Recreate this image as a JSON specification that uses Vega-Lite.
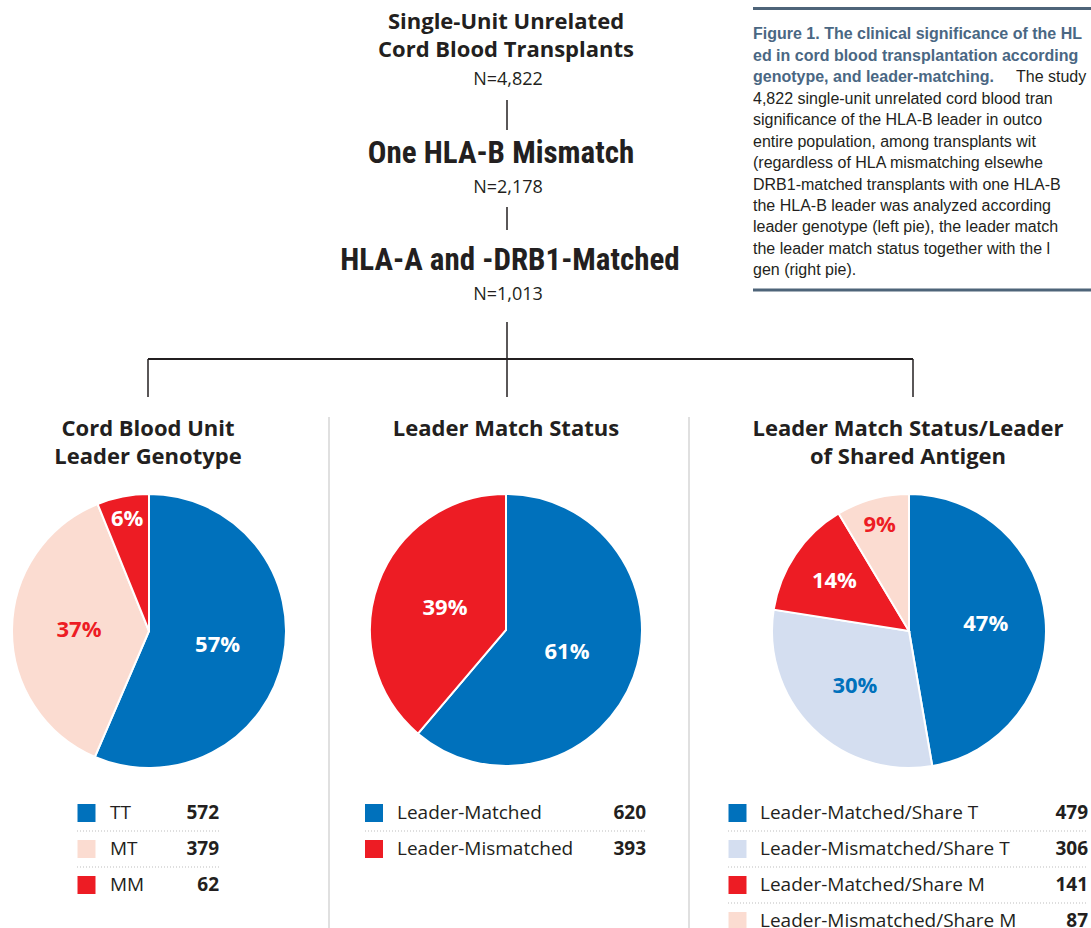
{
"$schema": "https://vega.github.io/schema/vega-lite/v6.json",
"padding": 0,
"spacing": 0,
"bounds": "flush",
"background": "white",
"config": {"view": {"stroke": null}},
"datasets": {
 "pies": [
  {"pie":"genotype","rank":1,"category":"TT","count":572,"pct":57,"label":"57%"},
  {"pie":"genotype","rank":2,"category":"MT","count":379,"pct":37,"label":"37%"},
  {"pie":"genotype","rank":3,"category":"MM","count":62,"pct":6,"label":"6%"},
  {"pie":"match","rank":1,"category":"Leader-Matched","count":620,"pct":61,"label":"61%"},
  {"pie":"match","rank":2,"category":"Leader-Mismatched","count":393,"pct":39,"label":"39%"},
  {"pie":"shared","rank":1,"category":"Leader-Matched/Share T","count":479,"pct":47,"label":"47%"},
  {"pie":"shared","rank":2,"category":"Leader-Mismatched/Share T","count":306,"pct":30,"label":"30%"},
  {"pie":"shared","rank":3,"category":"Leader-Matched/Share M","count":141,"pct":14,"label":"14%"},
  {"pie":"shared","rank":4,"category":"Leader-Mismatched/Share M","count":87,"pct":9,"label":"9%"}
 ],
 "text": [
  {"id":"flow1","text":"Single-Unit Unrelated\nCord Blood Transplants"},
  {"id":"n1","text":"N=4,822"},
  {"id":"flow2","text":"One HLA-B Mismatch"},
  {"id":"n2","text":"N=2,178"},
  {"id":"flow3","text":"HLA-A and -DRB1-Matched"},
  {"id":"n3","text":"N=1,013"},
  {"id":"title1","text":"Cord Blood Unit\nLeader Genotype"},
  {"id":"title2","text":"Leader Match Status"},
  {"id":"title3","text":"Leader Match Status/Leader\nof Shared Antigen"},
  {"id":"capBold","text":"Figure 1. The clinical significance of the HL\ned in cord blood transplantation according\ngenotype, and leader-matching."},
  {"id":"capTail","text":"The study"},
  {"id":"capBody","text":"4,822 single-unit unrelated cord blood tran\nsignificance of the HLA-B leader in outco\nentire population, among transplants wit\n(regardless of HLA mismatching elsewhe\nDRB1-matched transplants with one HLA-B\nthe HLA-B leader was analyzed according\nleader genotype (left pie), the leader match\nthe leader match status together with the l\ngen (right pie)."}
 ],
 "one": [{"part":"frame"}]
},
"vconcat": [
 {
  "width": 1091,
  "height": 795,
  "layer": [
   {"data":{"name":"text"},"transform":[{"filter":"datum.id==='flow1'"}],
    "mark":{"type":"text","font":"Open Sans","fontWeight":"bold","fontSize":22,"align":"center","baseline":"alphabetic","lineBreak":"\n","lineHeight":28,"color":"#231f20"},
    "encoding":{"x":{"datum":506,"type":"quantitative","scale":{"domain":[0,1091],"nice":false,"zero":false},"axis":null},
                "y":{"datum":29,"type":"quantitative","scale":{"domain":[0,795],"reverse":true,"nice":false,"zero":false},"axis":null},
                "text":{"field":"text"}}},
   {"data":{"name":"text"},"transform":[{"filter":"datum.id==='n1'"}],
    "mark":{"type":"text","font":"Open Sans","fontSize":18,"align":"center","baseline":"alphabetic","color":"#231f20"},
    "encoding":{"x":{"datum":508,"type":"quantitative","axis":null},"y":{"datum":85,"type":"quantitative","axis":null},"text":{"field":"text"}}},
   {"data":{"name":"one"},"mark":{"type":"rule","color":"#231f20","strokeWidth":1.5},
    "encoding":{"x":{"datum":507,"type":"quantitative","axis":null},"y":{"datum":100,"type":"quantitative","axis":null},"y2":{"datum":130}}},
   {"data":{"name":"text"},"transform":[{"filter":"datum.id==='flow2'"}],
    "mark":{"type":"text","font":"Roboto Condensed, Roboto","fontWeight":"bold","fontSize":31,"align":"center","baseline":"alphabetic","color":"#231f20"},
    "encoding":{"x":{"datum":501,"type":"quantitative","axis":null},"y":{"datum":163,"type":"quantitative","axis":null},"text":{"field":"text"}}},
   {"data":{"name":"text"},"transform":[{"filter":"datum.id==='n2'"}],
    "mark":{"type":"text","font":"Open Sans","fontSize":18,"align":"center","baseline":"alphabetic","color":"#231f20"},
    "encoding":{"x":{"datum":508,"type":"quantitative","axis":null},"y":{"datum":193,"type":"quantitative","axis":null},"text":{"field":"text"}}},
   {"data":{"name":"one"},"mark":{"type":"rule","color":"#231f20","strokeWidth":1.5},
    "encoding":{"x":{"datum":507,"type":"quantitative","axis":null},"y":{"datum":207,"type":"quantitative","axis":null},"y2":{"datum":230}}},
   {"data":{"name":"text"},"transform":[{"filter":"datum.id==='flow3'"}],
    "mark":{"type":"text","font":"Roboto Condensed, Roboto","fontWeight":"bold","fontSize":31,"align":"center","baseline":"alphabetic","color":"#231f20"},
    "encoding":{"x":{"datum":510,"type":"quantitative","axis":null},"y":{"datum":270,"type":"quantitative","axis":null},"text":{"field":"text"}}},
   {"data":{"name":"text"},"transform":[{"filter":"datum.id==='n3'"}],
    "mark":{"type":"text","font":"Open Sans","fontSize":18,"align":"center","baseline":"alphabetic","color":"#231f20"},
    "encoding":{"x":{"datum":508,"type":"quantitative","axis":null},"y":{"datum":300,"type":"quantitative","axis":null},"text":{"field":"text"}}},
   {"data":{"name":"one"},"mark":{"type":"rule","color":"#231f20","strokeWidth":1.5},
    "encoding":{"x":{"datum":507,"type":"quantitative","axis":null},"y":{"datum":322,"type":"quantitative","axis":null},"y2":{"datum":397}}},
   {"data":{"name":"one"},"mark":{"type":"rule","color":"#231f20","strokeWidth":2},
    "encoding":{"x":{"datum":148,"type":"quantitative","axis":null},"x2":{"datum":913},"y":{"datum":359,"type":"quantitative","axis":null}}},
   {"data":{"name":"one"},"mark":{"type":"rule","color":"#231f20","strokeWidth":1.5},
    "encoding":{"x":{"datum":148,"type":"quantitative","axis":null},"y":{"datum":359,"type":"quantitative","axis":null},"y2":{"datum":397}}},
   {"data":{"name":"one"},"mark":{"type":"rule","color":"#231f20","strokeWidth":1.5},
    "encoding":{"x":{"datum":913,"type":"quantitative","axis":null},"y":{"datum":359,"type":"quantitative","axis":null},"y2":{"datum":397}}},
   {"data":{"name":"one"},"mark":{"type":"rule","color":"#d6d6d6","strokeWidth":1.5},
    "encoding":{"x":{"datum":329,"type":"quantitative","axis":null},"y":{"datum":417,"type":"quantitative","axis":null},"y2":{"datum":795}}},
   {"data":{"name":"one"},"mark":{"type":"rule","color":"#d6d6d6","strokeWidth":1.5},
    "encoding":{"x":{"datum":689,"type":"quantitative","axis":null},"y":{"datum":417,"type":"quantitative","axis":null},"y2":{"datum":795}}},
   {"data":{"name":"one"},"mark":{"type":"rule","color":"#4e6479","strokeWidth":3},
    "encoding":{"x":{"datum":753,"type":"quantitative","axis":null},"x2":{"datum":1091},"y":{"datum":8.5,"type":"quantitative","axis":null}}},
   {"data":{"name":"one"},"mark":{"type":"rule","color":"#4e6479","strokeWidth":3},
    "encoding":{"x":{"datum":753,"type":"quantitative","axis":null},"x2":{"datum":1091},"y":{"datum":290,"type":"quantitative","axis":null}}},
   {"data":{"name":"text"},"transform":[{"filter":"datum.id==='capBold'"}],
    "mark":{"type":"text","font":"Liberation Sans","fontWeight":"bold","fontSize":16,"align":"left","baseline":"alphabetic","lineBreak":"\n","lineHeight":21.5,"color":"#4a6783","clip":true},
    "encoding":{"x":{"datum":753,"type":"quantitative","axis":null},"y":{"datum":39,"type":"quantitative","axis":null},"text":{"field":"text"}}},
   {"data":{"name":"text"},"transform":[{"filter":"datum.id==='capTail'"}],
    "mark":{"type":"text","font":"Liberation Sans","fontSize":16,"align":"left","baseline":"alphabetic","color":"#231f20","clip":true},
    "encoding":{"x":{"datum":1016,"type":"quantitative","axis":null},"y":{"datum":82,"type":"quantitative","axis":null},"text":{"field":"text"}}},
   {"data":{"name":"text"},"transform":[{"filter":"datum.id==='capBody'"}],
    "mark":{"type":"text","font":"Liberation Sans","fontSize":16,"align":"left","baseline":"alphabetic","lineBreak":"\n","lineHeight":21.4,"color":"#231f20","clip":true},
    "encoding":{"x":{"datum":753,"type":"quantitative","axis":null},"y":{"datum":104,"type":"quantitative","axis":null},"text":{"field":"text"}}},
   {"data":{"name":"text"},"transform":[{"filter":"datum.id==='title1'"}],
    "mark":{"type":"text","font":"Open Sans","fontWeight":"bold","fontSize":22,"align":"center","baseline":"alphabetic","lineBreak":"\n","lineHeight":27.5,"color":"#231f20"},
    "encoding":{"x":{"datum":148,"type":"quantitative","axis":null},"y":{"datum":436,"type":"quantitative","axis":null},"text":{"field":"text"}}},
   {"data":{"name":"text"},"transform":[{"filter":"datum.id==='title2'"}],
    "mark":{"type":"text","font":"Open Sans","fontWeight":"bold","fontSize":22,"align":"center","baseline":"alphabetic","color":"#231f20"},
    "encoding":{"x":{"datum":506,"type":"quantitative","axis":null},"y":{"datum":436,"type":"quantitative","axis":null},"text":{"field":"text"}}},
   {"data":{"name":"text"},"transform":[{"filter":"datum.id==='title3'"}],
    "mark":{"type":"text","font":"Open Sans","fontWeight":"bold","fontSize":22,"align":"center","baseline":"alphabetic","lineBreak":"\n","lineHeight":27.5,"color":"#231f20"},
    "encoding":{"x":{"datum":908,"type":"quantitative","axis":null},"y":{"datum":436,"type":"quantitative","axis":null},"text":{"field":"text"}}},
   {"data":{"name":"pies"},"transform":[{"filter":"datum.pie==='genotype'"}],
    "mark":{"type":"arc","outerRadius":137,"stroke":"white","strokeWidth":2},
    "encoding":{"x":{"datum":149,"type":"quantitative","axis":null},"y":{"datum":631,"type":"quantitative","axis":null},
     "theta":{"field":"count","type":"quantitative","stack":true},
     "order":{"field":"rank","type":"quantitative"},
     "color":{"field":"category","type":"nominal","legend":null,"scale":{"domain":["TT","MT","MM","Leader-Matched","Leader-Mismatched","Leader-Matched/Share T","Leader-Mismatched/Share T","Leader-Matched/Share M","Leader-Mismatched/Share M"],"range":["#0071bc","#fbdcd1","#ed1c24","#0071bc","#ed1c24","#0071bc","#d4def0","#ed1c24","#fbdcd1"]}}}},
   {"data":{"name":"pies"},"transform":[{"filter":"datum.pie==='match'"}],
    "mark":{"type":"arc","outerRadius":136,"stroke":"white","strokeWidth":2},
    "encoding":{"x":{"datum":506,"type":"quantitative","axis":null},"y":{"datum":630,"type":"quantitative","axis":null},
     "theta":{"field":"count","type":"quantitative","stack":true},
     "order":{"field":"rank","type":"quantitative"},
     "color":{"field":"category","type":"nominal","legend":null}}},
   {"data":{"name":"pies"},"transform":[{"filter":"datum.pie==='shared'"}],
    "mark":{"type":"arc","outerRadius":137,"stroke":"white","strokeWidth":2},
    "encoding":{"x":{"datum":909,"type":"quantitative","axis":null},"y":{"datum":631,"type":"quantitative","axis":null},
     "theta":{"field":"count","type":"quantitative","stack":true},
     "order":{"field":"rank","type":"quantitative"},
     "color":{"field":"category","type":"nominal","legend":null}}},
   {"data":{"name":"pies"},"transform":[{"filter":"datum.pie==='genotype'"}],
    "mark":{"type":"text","font":"Open Sans","fontWeight":"bold","fontSize":22,"align":"center","baseline":"middle","radius":{"expr":"datum.pct < 10 ? 114 : datum.pct < 20 ? 90 : 70"}},
    "encoding":{"x":{"datum":149,"type":"quantitative","axis":null},"y":{"datum":631,"type":"quantitative","axis":null},
     "theta":{"field":"count","type":"quantitative","stack":true},
     "order":{"field":"rank","type":"quantitative"},
     "text":{"field":"label"},
     "fill":{"field":"category","type":"nominal","legend":null,"scale":{"domain":["TT","MT","MM","Leader-Matched","Leader-Mismatched","Leader-Matched/Share T","Leader-Mismatched/Share T","Leader-Matched/Share M","Leader-Mismatched/Share M"],"range":["#ffffff","#ed1c24","#ffffff","#ffffff","#ffffff","#ffffff","#0071bc","#ffffff","#ed1c24"]}}}},
   {"data":{"name":"pies"},"transform":[{"filter":"datum.pie==='match'"}],
    "mark":{"type":"text","font":"Open Sans","fontWeight":"bold","fontSize":22,"align":"center","baseline":"middle","radius":65},
    "encoding":{"x":{"datum":506,"type":"quantitative","axis":null},"y":{"datum":630,"type":"quantitative","axis":null},
     "theta":{"field":"count","type":"quantitative","stack":true},
     "order":{"field":"rank","type":"quantitative"},
     "text":{"field":"label"},
     "fill":{"field":"category","type":"nominal","legend":null}}},
   {"data":{"name":"pies"},"transform":[{"filter":"datum.pie==='shared'"}],
    "mark":{"type":"text","font":"Open Sans","fontWeight":"bold","fontSize":22,"align":"center","baseline":"middle","radius":{"expr":"datum.pct < 10 ? 110 : datum.pct < 20 ? 90 : 77"}},
    "encoding":{"x":{"datum":909,"type":"quantitative","axis":null},"y":{"datum":631,"type":"quantitative","axis":null},
     "theta":{"field":"count","type":"quantitative","stack":true},
     "order":{"field":"rank","type":"quantitative"},
     "text":{"field":"label"},
     "fill":{"field":"category","type":"nominal","legend":null}}}
  ]
 },
 {
  "hconcat": [
   {
    "width": 328, "height": 144,
    "data": {"name":"pies"},
    "transform": [{"filter":"datum.pie==='genotype'"}],
    "layer": [
     {"mark":{"type":"square","size":324,"opacity":1,"filled":true},
      "encoding":{"x":{"datum":86.5,"type":"quantitative","scale":{"domain":[0,328],"nice":false,"zero":false},"axis":null},
                  "y":{"field":"category","type":"nominal","scale":{"type":"band","domain":["TT","MT","MM","_4"],"paddingInner":0,"paddingOuter":0},"axis":null},
                  "color":{"field":"category","type":"nominal","legend":null,"scale":{"domain":["TT","MT","MM"],"range":["#0071bc","#fbdcd1","#ed1c24"]}}}},
     {"mark":{"type":"text","align":"left","baseline":"middle","font":"Open Sans","fontSize":19,"color":"#231f20"},
      "encoding":{"x":{"datum":110,"type":"quantitative","axis":null},"y":{"field":"category","type":"nominal","axis":null},"text":{"field":"category"}}},
     {"mark":{"type":"text","align":"right","baseline":"middle","font":"Open Sans","fontWeight":"bold","fontSize":19,"color":"#231f20"},
      "encoding":{"x":{"datum":219,"type":"quantitative","axis":null},"y":{"field":"category","type":"nominal","axis":null},"text":{"field":"count","type":"nominal"}}},
     {"transform":[{"filter":"datum.rank<3"}],
      "mark":{"type":"rule","strokeDash":[1,2],"color":"#bdbdbd","strokeWidth":1},
      "encoding":{"x":{"datum":77,"type":"quantitative","axis":null},"x2":{"datum":219},"y":{"field":"category","type":"nominal","bandPosition":1,"axis":null}}}
    ]
   },
   {
    "width": 360, "height": 144,
    "data": {"name":"pies"},
    "transform": [{"filter":"datum.pie==='match'"}],
    "layer": [
     {"mark":{"type":"square","size":324,"opacity":1,"filled":true},
      "encoding":{"x":{"datum":46,"type":"quantitative","scale":{"domain":[0,360],"nice":false,"zero":false},"axis":null},
                  "y":{"field":"category","type":"nominal","scale":{"type":"band","domain":["Leader-Matched","Leader-Mismatched","_3","_4"],"paddingInner":0,"paddingOuter":0},"axis":null},
                  "color":{"field":"category","type":"nominal","legend":null,"scale":{"domain":["Leader-Matched","Leader-Mismatched"],"range":["#0071bc","#ed1c24"]}}}},
     {"mark":{"type":"text","align":"left","baseline":"middle","font":"Open Sans","fontSize":19,"color":"#231f20"},
      "encoding":{"x":{"datum":69,"type":"quantitative","axis":null},"y":{"field":"category","type":"nominal","axis":null},"text":{"field":"category"}}},
     {"mark":{"type":"text","align":"right","baseline":"middle","font":"Open Sans","fontWeight":"bold","fontSize":19,"color":"#231f20"},
      "encoding":{"x":{"datum":318,"type":"quantitative","axis":null},"y":{"field":"category","type":"nominal","axis":null},"text":{"field":"count","type":"nominal"}}},
     {"transform":[{"filter":"datum.rank<2"}],
      "mark":{"type":"rule","strokeDash":[1,2],"color":"#bdbdbd","strokeWidth":1},
      "encoding":{"x":{"datum":37,"type":"quantitative","axis":null},"x2":{"datum":318},"y":{"field":"category","type":"nominal","bandPosition":1,"axis":null}}},
     {"transform":[{"filter":"datum.rank===1"}],
      "mark":{"type":"rule","color":"#d6d6d6","strokeWidth":1.5},
      "encoding":{"x":{"datum":1,"type":"quantitative","axis":null}}}
    ]
   },
   {
    "width": 403, "height": 144,
    "data": {"name":"pies"},
    "transform": [{"filter":"datum.pie==='shared'"}],
    "layer": [
     {"mark":{"type":"square","size":324,"opacity":1,"filled":true},
      "encoding":{"x":{"datum":49.5,"type":"quantitative","scale":{"domain":[0,403],"nice":false,"zero":false},"axis":null},
                  "y":{"field":"category","type":"nominal","scale":{"type":"band","domain":["Leader-Matched/Share T","Leader-Mismatched/Share T","Leader-Matched/Share M","Leader-Mismatched/Share M"],"paddingInner":0,"paddingOuter":0},"axis":null},
                  "color":{"field":"category","type":"nominal","legend":null,"scale":{"domain":["Leader-Matched/Share T","Leader-Mismatched/Share T","Leader-Matched/Share M","Leader-Mismatched/Share M"],"range":["#0071bc","#d4def0","#ed1c24","#fbdcd1"]}}}},
     {"mark":{"type":"text","align":"left","baseline":"middle","font":"Open Sans","fontSize":19,"color":"#231f20"},
      "encoding":{"x":{"datum":72,"type":"quantitative","axis":null},"y":{"field":"category","type":"nominal","axis":null},"text":{"field":"category"}}},
     {"mark":{"type":"text","align":"right","baseline":"middle","font":"Open Sans","fontWeight":"bold","fontSize":19,"color":"#231f20"},
      "encoding":{"x":{"datum":400,"type":"quantitative","axis":null},"y":{"field":"category","type":"nominal","axis":null},"text":{"field":"count","type":"nominal"}}},
     {"transform":[{"filter":"datum.rank<4"}],
      "mark":{"type":"rule","strokeDash":[1,2],"color":"#bdbdbd","strokeWidth":1},
      "encoding":{"x":{"datum":40,"type":"quantitative","axis":null},"x2":{"datum":400},"y":{"field":"category","type":"nominal","bandPosition":1,"axis":null}}},
     {"transform":[{"filter":"datum.rank===1"}],
      "mark":{"type":"rule","color":"#d6d6d6","strokeWidth":1.5},
      "encoding":{"x":{"datum":1,"type":"quantitative","axis":null}}}
    ]
   }
  ],
  "spacing": 0,
  "bounds": "flush"
 }
]
}
